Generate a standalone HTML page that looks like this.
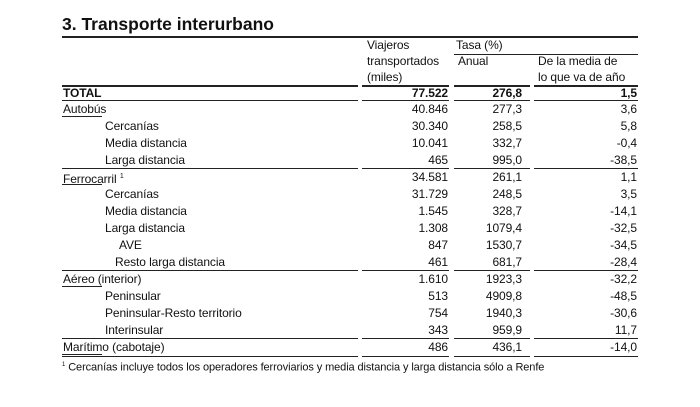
<!DOCTYPE html>
<html><head><meta charset="utf-8"><style>
body{margin:0;width:700px;height:407px;background:#fff;position:relative;font-family:"Liberation Sans",Arial,sans-serif;color:#111;overflow:hidden}
.t{position:absolute;font-size:12px;line-height:14px;white-space:nowrap;letter-spacing:-0.1px}
.r{text-align:right}
.l{position:absolute;background:#222;height:1px}
.b{font-weight:bold}
</style></head><body>
<div class="t b" style="left:62px;top:14px;font-size:17.5px;line-height:20px;letter-spacing:0">3. Transporte interurbano</div>
<div class="l" style="left:62px;top:36px;width:576px;height:2px"></div>
<div class="t" style="left:367px;top:38px">Viajeros</div>
<div class="t" style="left:367px;top:54px">transportados</div>
<div class="t" style="left:367px;top:70px">(miles)</div>
<div class="t" style="left:456px;top:38px">Tasa (%)</div>
<div class="l" style="left:454px;top:54px;width:184px"></div>
<div class="t" style="left:458px;top:54px">Anual</div>
<div class="t" style="left:538px;top:54px">De la media de</div>
<div class="t" style="left:538px;top:70px">lo que va de año</div>
<div id="rows"></div>
<script>
var segs=[[62,296],[362,87],[454,76],[534,104]];
function line(y,h){segs.forEach(function(s){document.write('<div class="l" style="left:'+s[0]+'px;top:'+y+'px;width:'+s[1]+'px;height:'+(h||1)+'px"></div>')})}
line(85,2);
var rows=[
["TOTAL",0,"77.522","276,8","1,5",1],
["Autobús",0,"40.846","277,3","3,6",2],
["Cercanías",42,"30.340","258,5","5,8"],
["Media distancia",42,"10.041","332,7","-0,4"],
["Larga distancia",42,"465","995,0","-38,5"],
["Ferrocarril <sup style='font-size:7px'>1</sup>",0,"34.581","261,1","1,1",2],
["Cercanías",42,"31.729","248,5","3,5"],
["Media distancia",42,"1.545","328,7","-14,1"],
["Larga distancia",42,"1.308","1079,4","-32,5"],
["AVE",56,"847","1530,7","-34,5"],
["Resto larga distancia",52,"461","681,7","-28,4"],
["Aéreo (interior)",0,"1.610","1923,3","-32,2",2],
["Peninsular",42,"513","4909,8","-48,5"],
["Peninsular-Resto territorio",42,"754","1940,3","-30,6"],
["Interinsular",42,"343","959,9","11,7"],
["Marítimo (cabotaje)",0,"486","436,1","-14,0",2]
];
var ys=[85,101,118,135,152,169,186,203,220,237,254,271,288,305,322,339];
rows.forEach(function(r,i){
 var y=ys[i]; var cls=r[5]==1?" b":"";
 if(i>0 && r[5]==2 && i!=1) line(y-1,1);
 if(r[5]==1) line(y+15,1);
 document.write('<div class="t'+cls+'" style="left:'+(63+r[1])+'px;top:'+(y+1)+'px">'+r[0]+'</div>');
 document.write('<div class="t r'+cls+'" style="left:368px;width:80px;top:'+(y+1)+'px">'+r[2]+'</div>');
 document.write('<div class="t r'+cls+'" style="left:442px;width:80px;top:'+(y+1)+'px">'+r[3]+'</div>');
 document.write('<div class="t r'+cls+'" style="left:557px;width:80px;top:'+(y+1)+'px">'+r[4]+'</div>');
 if(r[5]==2) document.write('<div class="l" style="left:62px;top:'+(y+15)+'px;width:40px"></div>');
});
line(356,1);
</script>
<div class="t" style="left:62px;top:358px;font-size:11px"><sup style="font-size:6px">1</sup> Cercanías incluye todos los operadores ferroviarios y media distancia y larga distancia sólo a Renfe</div>
</body></html>
